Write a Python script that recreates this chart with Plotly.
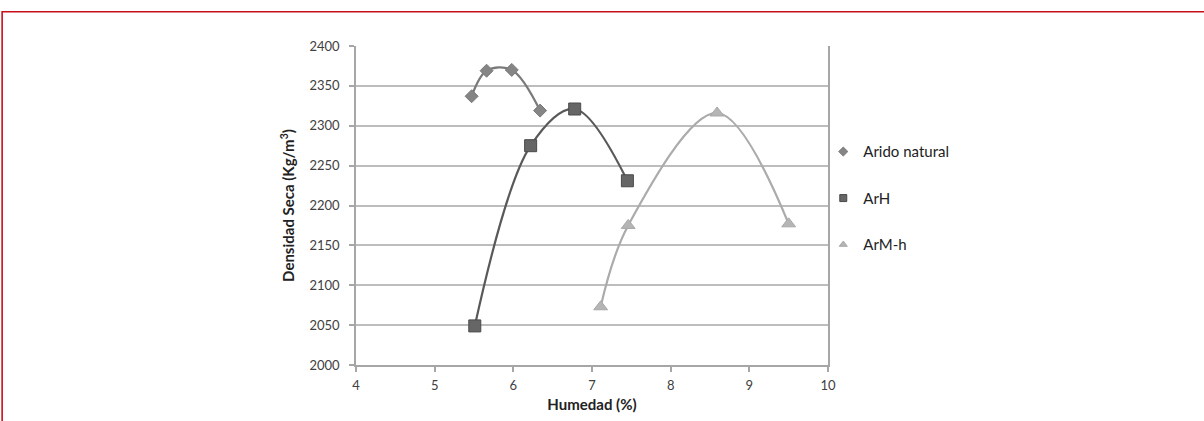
import plotly.graph_objects as go

# Data
series_names = ["Arido natural", "ArH", "ArM-h"]
arido_x = [5.47, 5.66, 5.98, 6.34]
arido_y = [2337, 2369, 2370, 2319]
arh_x = [5.51, 6.22, 6.78, 7.45]
arh_y = [2049, 2275, 2321, 2231]
armh_x = [7.11, 7.46, 8.59, 9.50]
armh_y = [2073, 2175, 2316, 2177]

x_ticks = [4, 5, 6, 7, 8, 9, 10]
y_ticks = [2000, 2050, 2100, 2150, 2200, 2250, 2300, 2350, 2400]

styles = [
    dict(symbol="diamond", size=10, mcolor="#858585", lcolor="#7a7a7a", lw=2.2, mline="#7a7a7a"),
    dict(symbol="square", size=12, mcolor="#666666", lcolor="#595959", lw=2.2, mline="#4a4a4a"),
    dict(symbol="triangle-up", size=12, mcolor="#b5b5b5", lcolor="#ababab", lw=2.2, mline="#a8a8a8"),
]
data = [(arido_x, arido_y), (arh_x, arh_y), (armh_x, armh_y)]

fig = go.Figure()
for name, (xs, ys), st in zip(series_names, data, styles):
    fig.add_trace(go.Scatter(
        x=xs, y=ys, mode="lines", line=dict(color=st["lcolor"], width=st["lw"], shape="spline", smoothing=1.0),
        showlegend=False, hoverinfo="skip"))
for name, (xs, ys), st in zip(series_names, data, styles):
    fig.add_trace(go.Scatter(
        x=xs, y=ys, mode="markers", name=name, legendgroup=name, showlegend=False,
        marker=dict(symbol=st["symbol"], size=st["size"], color=st["mcolor"],
                    line=dict(color=st["mline"], width=1))))
# legend entries (small symbols, as in the reference legend)
for name, st in zip(series_names, styles):
    fig.add_trace(go.Scatter(
        x=[None], y=[None], mode="markers", name=name, legendgroup=name,
        marker=dict(symbol=st["symbol"], size=7, color=st["mcolor"],
                    line=dict(color=st["mline"], width=1))))

axis_font = dict(family="Lato, 'Open Sans', sans-serif", size=13, color="#404040")
fig.update_layout(
    width=1204, height=421,
    margin=dict(l=356, r=376, t=46, b=56, autoexpand=False),
    paper_bgcolor="white", plot_bgcolor="white",
    font=dict(family="Lato, 'Open Sans', sans-serif", color="#222222"),
    legend=dict(x=0.99, y=0.72, xanchor="left", yanchor="top",
                font=dict(size=15, color="#222222"), tracegroupgap=24,
                itemsizing="trace", itemwidth=30, bgcolor="rgba(0,0,0,0)"),
    showlegend=True,
)
fig.update_xaxes(
    range=[4, 10], tickvals=x_ticks, showgrid=False, zeroline=False,
    showline=True, linecolor="#a6a6a6", linewidth=1.5,
    ticks="outside", ticklen=5, tickcolor="#a6a6a6", tickwidth=1.5,
    tickfont=axis_font, ticklabelstandoff=3,
    title=dict(text="<b>Humedad (%)</b>", font=dict(size=15, color="#222222"), standoff=7),
)
fig.update_yaxes(
    range=[2000, 2400], tickvals=y_ticks, showgrid=True, gridcolor="#bdbdbd", gridwidth=1.5,
    zeroline=False, showline=True, linecolor="#a6a6a6", linewidth=1.5, mirror=True,
    ticks="outside", ticklen=5, tickcolor="#a6a6a6", tickwidth=1.5,
    tickfont=axis_font, ticklabelstandoff=7,
    title=dict(text="<b>Densidad Seca (Kg/m<sup>3</sup>)</b>", font=dict(size=15, color="#222222"), standoff=11),
)

# Red frame around the figure (top and left edges)
fig.add_shape(type="path", xref="paper", yref="paper",
              path="M -0.7497,-0.18 L -0.7497,1.1076 L 1.8,1.1076",
              line=dict(color="#c8101a", width=1.6))

fig.write_html("out.html", config={"displayModeBar": False},
               post_script="document.body.style.margin='0';document.documentElement.style.overflow='hidden';")
